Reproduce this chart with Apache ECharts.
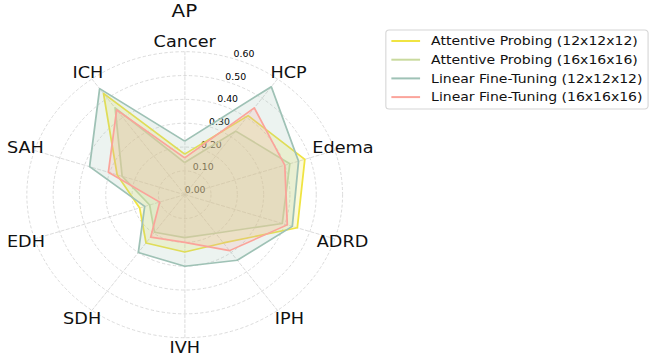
<!DOCTYPE html>
<html>
<head>
<meta charset="utf-8">
<script src="https://cdn.jsdelivr.net/npm/echarts@6/dist/echarts.min.js"></script>
<style>
html,body{margin:0;padding:0;background:#fff;overflow:hidden;width:658px;height:359px;}
#chart{width:596px;height:359px;transform:scaleX(1.104);transform-origin:0 0;}
</style>
</head>
<body>
<div id="chart"></div>
<script>
// Categories listed clockwise from the top
const categories = ['Cancer', 'HCP', 'Edema', 'ADRD', 'IPH', 'IVH', 'SDH', 'EDH', 'SAH', 'ICH'];
const seriesNames = ['Attentive Probing (12x12x12)', 'Attentive Probing (16x16x16)', 'Linear Fine-Tuning (12x12x12)', 'Linear Fine-Tuning (16x16x16)'];
const attentive12 = [0.17, 0.41, 0.48, 0.45, 0.25, 0.24, 0.25, 0.18, 0.27, 0.525];
const attentive16 = [0.135, 0.33, 0.42, 0.39, 0.20, 0.18, 0.195, 0.14, 0.25, 0.45];
const linear12 = [0.225, 0.56, 0.455, 0.43, 0.34, 0.30, 0.30, 0.16, 0.38, 0.55];
const linear16 = [0.155, 0.45, 0.40, 0.41, 0.29, 0.20, 0.22, 0.10, 0.305, 0.44];
const radialTicks = [0.0, 0.1, 0.2, 0.3, 0.4, 0.5, 0.6];
const colors = ['#f0e442', '#c9da9e', '#9fc2b6', '#fba49b'];

// Layout: per-label padding [top, right, bottom, left] to place axis names like the reference
const namePadding = {
  Cancer: [0, 0, 35, 0],
  HCP: [0, 0, 67, 13],
  Edema: [0, 0, 27, 11],
  ADRD: [25, 0, 0, 15],
  IPH: [70, 0, 0, 17],
  IVH: [35, 0, 0, 0],
  SDH: [70, 11, 0, 0],
  EDH: [25, 22, 0, 0],
  SAH: [0, 23, 27, 0],
  ICH: [0, 9, 67, 0]
};

const rMax = radialTicks[radialTicks.length - 1];
const font = 'DejaVu Sans';
// ECharts radar runs counter-clockwise: reorder so the chart reads clockwise
const order = [0].concat(categories.map((_, i) => i).slice(1).reverse());
const reorder = arr => order.map(i => arr[i]);
const allValues = [attentive12, attentive16, linear12, linear16];

const rich = {};
categories.forEach((c, i) => {
  rich['n' + i] = { color: '#111', fontSize: 16, fontFamily: font, padding: namePadding[c] };
});

const center = [167.3, 194.7];
const radius = 143;

const chart = echarts.init(document.getElementById('chart'), null, { renderer: 'svg' });
chart.setOption({
  animation: false,
  backgroundColor: '#fff',
  title: {
    text: 'AP', left: 167, top: 1, textAlign: 'center', padding: 0,
    textStyle: { fontSize: 18, fontWeight: 'normal', color: '#111', fontFamily: font }
  },
  legend: {
    orient: 'vertical', left: 349.5, top: 30,
    data: seriesNames,
    icon: 'rect', itemWidth: 26, itemHeight: 2, itemGap: 2.7,
    padding: [3, 5, 4, 5],
    borderColor: '#d6d6d6', borderWidth: 1, borderRadius: 3, backgroundColor: '#fff',
    textStyle: { fontSize: 12.7, color: '#111', fontFamily: font, lineHeight: 16, padding: [0, 0, 0, 5] }
  },
  radar: {
    center: center, radius: radius, startAngle: 90, shape: 'circle', splitNumber: radialTicks.length - 1,
    indicator: reorder(categories).map(n => ({ name: n, min: 0, max: rMax })),
    axisName: {
      color: '#111', fontSize: 16, fontFamily: font,
      formatter: name => '{n' + categories.indexOf(name) + '|' + name + '}',
      rich: rich
    },
    nameGap: -33,
    axisLine: { lineStyle: { color: '#d4d4d4', width: 0.8, type: [3, 2] } },
    splitLine: { lineStyle: { color: '#d4d4d4', width: 0.8, type: [3, 2] } },
    splitArea: { show: false },
    axisLabel: { show: false }
  },
  polar: { center: center, radius: radius },
  angleAxis: {
    type: 'value', startAngle: 72, min: 0, max: 360,
    axisLine: { show: false }, axisTick: { show: false }, axisLabel: { show: false }, splitLine: { show: false }
  },
  radiusAxis: {
    type: 'value', min: 0, max: rMax, interval: radialTicks[1] - radialTicks[0],
    axisLine: { show: false }, axisTick: { show: false }, splitLine: { show: false },
    axisLabel: {
      show: true, margin: 0, rotate: 0, align: 'left', verticalAlign: 'bottom',
      fontSize: 8.5, color: '#000', fontFamily: font,
      formatter: v => v.toFixed(2)
    }
  },
  series: seriesNames.map((name, k) => ({
    type: 'radar', name: name, symbol: 'none', z: 2 + k,
    lineStyle: { color: colors[k], width: 1.6 },
    itemStyle: { color: colors[k] },
    areaStyle: { color: colors[k], opacity: 0.2 },
    data: [{ name: name, value: reorder(allValues[k]) }]
  }))
});
</script>
</body>
</html>
